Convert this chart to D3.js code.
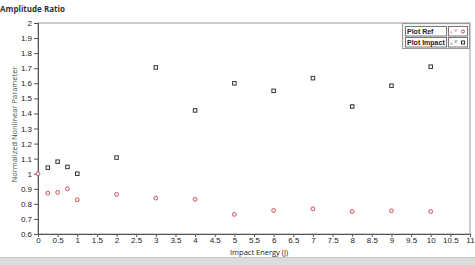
<!DOCTYPE html>
<html>
<head>
<meta charset="utf-8">
<script src="https://cdn.jsdelivr.net/npm/d3@7"></script>
<style>
  body { margin: 0; background: #fff; }
  svg { display: block; font-family: "Open Sans", "Liberation Sans", sans-serif; }
</style>
</head>
<body>
<svg id="chart" width="475" height="265"></svg>
<script>
// energies (J) and amplitude ratios
const refEnergy = [0, 0.25, 0.5, 0.75, 1, 2, 3, 4, 5, 6, 7, 8, 9, 10];
const refValues = [1.0, 0.871, 0.876, 0.90, 0.827, 0.863, 0.838, 0.83, 0.73, 0.756, 0.767, 0.749, 0.754, 0.749];
const impactEnergy = [0.25, 0.5, 0.75, 1, 2, 3, 4, 5, 6, 7, 8, 9, 10];
const impactValues = [1.04, 1.08, 1.045, 1.0, 1.107, 1.705, 1.42, 1.6, 1.55, 1.634, 1.446, 1.584, 1.71];
const xTicks = d3.range(0, 11.01, 0.5);
const yTicks = d3.range(0.6, 2.001, 0.1).map(v => Math.round(v * 10) / 10);
const legendNames = ['Plot Ref', 'Plot Impact'];

const svg = d3.select('#chart');
const plotLeft = 38, plotRight = 470, plotTop = 23, plotBottom = 234;

const x = d3.scaleLinear().domain([0, 11]).range([plotLeft, plotRight]);
const y = d3.scaleLinear().domain([0.6, 2]).range([plotBottom, plotTop]);

// gray strip at the bottom
svg.append('rect').attr('x', 0).attr('y', 258).attr('width', 475).attr('height', 7).attr('fill', '#dcdcdc');
svg.append('line').attr('x1', 0).attr('x2', 475).attr('y1', 257.5).attr('y2', 257.5).attr('stroke', '#c4c4c4');

// plot frame
svg.append('rect')
    .attr('x', plotLeft).attr('y', plotTop)
    .attr('width', plotRight - plotLeft).attr('height', plotBottom - plotTop)
    .attr('fill', '#fff').attr('stroke', '#9a9a9a').attr('stroke-width', 1);

const xAxis = svg.append('g')
    .attr('transform', `translate(0,${plotBottom})`)
    .call(d3.axisBottom(x).tickValues(xTicks).tickSize(3).tickPadding(1).tickFormat(d3.format('~g')));
const yAxis = svg.append('g')
    .attr('transform', `translate(${plotLeft},0)`)
    .call(d3.axisLeft(y).tickValues(yTicks).tickSize(4).tickPadding(2).tickFormat(d3.format('~g')));

[xAxis, yAxis].forEach(g => {
    g.select('.domain').attr('stroke', '#555');
    g.selectAll('.tick line').attr('stroke', '#555');
    g.selectAll('.tick text').attr('fill', '#222').style('font-size', '8px');
});
xAxis.selectAll('.tick text').attr('y', 3);

// titles
svg.append('text').attr('x', 0).attr('y', 12)
    .style('font-size', '8px').style('font-weight', 'bold').attr('fill', '#333')
    .text('Amplitude Ratio');
svg.append('text')
    .attr('transform', `translate(17,${(plotTop + plotBottom) / 2 - 4}) rotate(-90)`)
    .attr('text-anchor', 'middle')
    .style('font-size', '7.5px').attr('fill', '#2f5a3c')
    .text('Normalized Nonlinear Parameter');
svg.append('text').attr('x', 230).attr('y', 254.5)
    .style('font-size', '7.5px').attr('fill', '#222')
    .text('Impact Energy (J)');

// data
const refColor = '#d2485a', impactColor = '#333';
svg.append('g').selectAll('rect')
    .data(impactEnergy.map((e, i) => [e, impactValues[i]]))
    .join('rect')
    .attr('x', d => x(d[0]) - 1.75).attr('y', d => y(d[1]) - 1.75)
    .attr('width', 3.5).attr('height', 3.5)
    .attr('fill', '#fff').attr('stroke', impactColor).attr('stroke-width', 1);
svg.append('g').selectAll('circle')
    .data(refEnergy.map((e, i) => [e, refValues[i]]))
    .join('circle')
    .attr('cx', d => x(d[0])).attr('cy', d => y(d[1]))
    .attr('r', 1.9)
    .attr('fill', '#fff').attr('stroke', refColor).attr('stroke-width', 1);

// legend
const lg = svg.append('g');
lg.append('rect').attr('x', 402.5).attr('y', 23.5).attr('width', 67).attr('height', 25)
    .attr('fill', '#f4f4f4').attr('stroke', '#9a9a9a');
legendNames.forEach((name, i) => {
    const ry = 26.5 + i * 11;
    lg.append('rect').attr('x', 405.5).attr('y', ry).attr('width', 41).attr('height', 9.5)
        .attr('fill', '#fff').attr('stroke', '#777');
    lg.append('text').attr('x', 407).attr('y', ry + 7.3)
        .style('font-family', '"Liberation Sans", sans-serif')
        .style('font-size', '7px').style('font-weight', 'bold').attr('fill', '#222').text(name);
    lg.append('rect').attr('x', 448.5).attr('y', ry).attr('width', 19).attr('height', 9.5)
        .attr('fill', '#fff').attr('stroke', '#777');
    const c = i === 0 ? refColor : impactColor;
    lg.append('text').attr('x', 450).attr('y', ry + 7.5).style('font-size', '6px').attr('fill', c).text('♭');
    lg.append('text').attr('x', 454.5).attr('y', ry + 5).style('font-size', '5px').attr('fill', c).text('v');
    if (i === 0) {
        lg.append('circle').attr('cx', 463).attr('cy', ry + 5).attr('r', 1.5).attr('fill', 'none').attr('stroke', c);
    } else {
        lg.append('rect').attr('x', 461.5).attr('y', ry + 3.5).attr('width', 3).attr('height', 3).attr('fill', 'none').attr('stroke', c);
    }
});
</script>
</body>
</html>
